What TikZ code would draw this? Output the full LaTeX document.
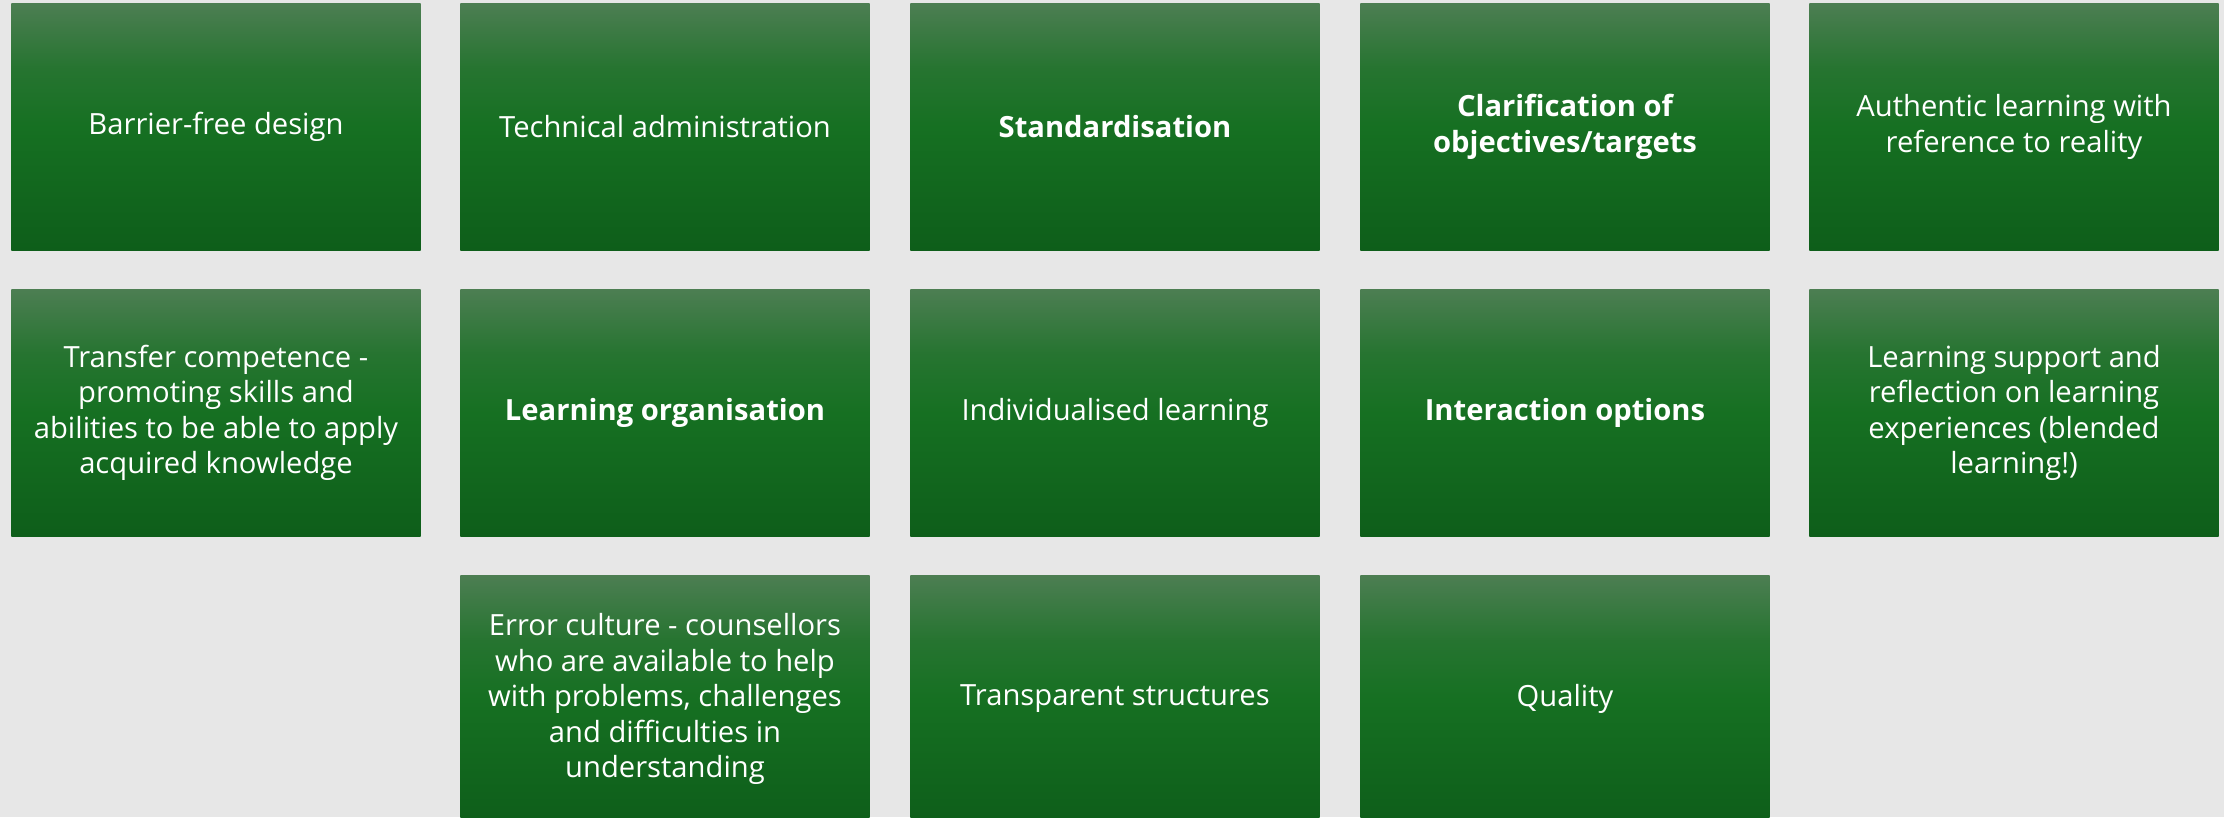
\documentclass[tikz,border=0pt]{standalone}
\usepackage{fontspec}
\setmainfont{Open Sans}

\definecolor{tiletop}{RGB}{76,126,82}
\definecolor{tilemid}{RGB}{22,112,34}
\definecolor{tilebot}{RGB}{14,94,26}
\definecolor{pagegray}{RGB}{231,231,231}

% green tile gradient, light at the top
\pgfdeclareverticalshading{tileshade}{100bp}{color(0bp)=(tilebot); color(25bp)=(tilebot); color(50bp)=(tilemid); color(62bp)=(tilemid!70!tiletop); color(75bp)=(tiletop); color(100bp)=(tiletop)}

\begin{document}
\begin{tikzpicture}[x=0.01cm, y=-0.01cm,
                tile/.style={rectangle, shading=tileshade, minimum width=4.09cm, minimum height=2.46cm, inner sep=0pt, align=center, text=white, font=\fontsize{8.3}{10.1}\selectfont},
                keytile/.style={tile, font=\fontsize{8.3}{10.1}\selectfont\bfseries}]

                \fill[pagegray] (0,0) rectangle (2224,817);
                \useasboundingbox (0,0) rectangle (2224,817);
                \clip (0,0) rectangle (2224,817);

                % first row
                \node[tile] (barrier) at (216,127) {Barrier-free design};
                \node[tile] (admin) at (665,127) {Technical administration};
                \node[keytile] (standard) at (1115,127) {Standardisation};
                \node[keytile] (targets) at (1565,127) {Clarification of\\objectives/targets};
                \node[tile] (authentic) at (2014,127) {Authentic learning with\\reference to reality};

                % second row
                \node[tile] (transfer) at (216,413) {Transfer competence -\\promoting skills and\\abilities to be able to apply\\acquired knowledge};
                \node[keytile] (organisation) at (665,413) {Learning organisation};
                \node[tile] (individual) at (1115,413) {Individualised learning};
                \node[keytile] (interaction) at (1565,413) {Interaction options};
                \node[tile] (support) at (2014,413) {Learning support and\\reflection on learning\\experiences (blended\\learning!)};

                % third row
                \node[tile] (errors) at (665,699) {Error culture - counsellors\\who are available to help\\with problems, challenges\\and difficulties in\\understanding};
                \node[tile] (structures) at (1115,699) {Transparent structures};
                \node[tile] (quality) at (1565,699) {Quality};
            \end{tikzpicture}
\end{document}
